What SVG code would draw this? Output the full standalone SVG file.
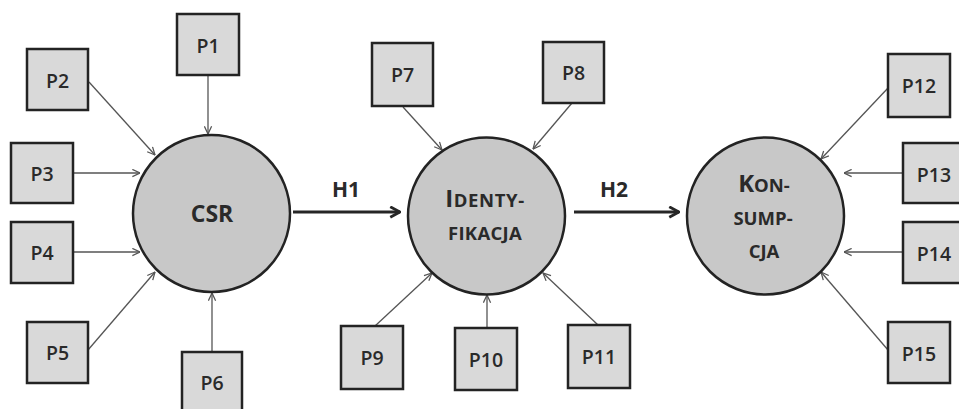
<svg xmlns="http://www.w3.org/2000/svg" width="959" height="409" viewBox="0 0 959 409">
<style>
.box{fill:#d9d9d9;stroke:#232323;stroke-width:2.5}
.circ{fill:#c8c8c8;stroke:#232323;stroke-width:2.5}
.pl{font-family:"Open Sans","Liberation Sans",sans-serif;font-weight:600;font-size:19.5px;fill:#2a2a2a;text-anchor:middle}
.cl{font-family:"Open Sans","Liberation Sans",sans-serif;font-weight:700;font-size:18.5px;fill:#2a2a2a;text-anchor:middle}
.big{font-size:24px}
.hl{font-family:"Open Sans","Liberation Sans",sans-serif;font-weight:700;font-size:21px;fill:#2a2a2a;text-anchor:middle}
.thin{stroke:#555;stroke-width:1.3;fill:none;marker-end:url(#a)}
.thick{stroke:#262626;stroke-width:3;fill:none;marker-end:url(#b)}
</style>
<defs>
<marker id="a" viewBox="0 0 10 10" refX="9.5" refY="5" markerWidth="9" markerHeight="9" orient="auto" markerUnits="userSpaceOnUse">
<path d="M1,1 L9.5,5 L1,9" fill="none" stroke="#555" stroke-width="1.4"/>
</marker>
<marker id="b" viewBox="0 0 10 10" refX="9" refY="5" markerWidth="13" markerHeight="13" orient="auto" markerUnits="userSpaceOnUse">
<path d="M1.5,1 L9,5 L1.5,9" fill="none" stroke="#262626" stroke-width="2.2"/>
</marker>
</defs>
<rect width="959" height="409" fill="#ffffff"/>
<g id="connectors">
<line class="thin" x1="208" y1="75" x2="208" y2="134"/>
<line class="thin" x1="89" y1="82" x2="155" y2="155"/>
<line class="thin" x1="73" y1="173" x2="140" y2="173"/>
<line class="thin" x1="73" y1="252" x2="140" y2="252"/>
<line class="thin" x1="88" y1="350" x2="155" y2="272"/>
<line class="thin" x1="212" y1="352" x2="212" y2="293"/>
<line class="thin" x1="403" y1="107" x2="442" y2="150"/>
<line class="thin" x1="572" y1="103" x2="533" y2="149"/>
<line class="thin" x1="375" y1="326" x2="432" y2="273"/>
<line class="thin" x1="487" y1="328" x2="487" y2="295"/>
<line class="thin" x1="598" y1="325" x2="543" y2="273"/>
<line class="thin" x1="888" y1="88" x2="821" y2="159"/>
<line class="thin" x1="903" y1="173" x2="844" y2="173"/>
<line class="thin" x1="903" y1="252" x2="844" y2="252"/>
<line class="thin" x1="888" y1="350" x2="821" y2="272"/>
<line class="thick" x1="293" y1="212" x2="400" y2="212"/>
<line class="thick" x1="574" y1="212" x2="679" y2="212"/>
<text class="hl" x="346" y="197">H1</text>
<text class="hl" x="614" y="197">H2</text>
</g>
<g id="CSR"><circle class="circ" cx="211.5" cy="213.5" r="78.5"/><text class="cl" x="212" y="222" style="font-size:23px">CSR</text></g>
<g id="Identyfikacja"><circle class="circ" cx="486.5" cy="216" r="78.5"/><text class="cl" x="485" y="207" letter-spacing="0.6"><tspan class="big">I</tspan>DENTY-</text><text class="cl" x="485" y="240" letter-spacing="0.3">FIKACJA</text></g>
<g id="Konsumpcja"><circle class="circ" cx="765.5" cy="216" r="78.5"/><text class="cl" x="764" y="192"><tspan class="big">K</tspan>ON-</text><text class="cl" x="763" y="225">SUMP-</text><text class="cl" x="764" y="258">CJA</text></g>
<g id="P1"><rect class="box" x="177" y="14" width="62" height="61"/><text class="pl" x="208" y="53">P1</text></g>
<g id="P2"><rect class="box" x="27" y="49" width="61" height="61"/><text class="pl" x="57.5" y="88">P2</text></g>
<g id="P3"><rect class="box" x="11" y="143" width="62" height="60"/><text class="pl" x="42" y="181">P3</text></g>
<g id="P4"><rect class="box" x="11" y="222" width="62" height="61"/><text class="pl" x="42" y="260">P4</text></g>
<g id="P5"><rect class="box" x="27" y="322" width="61" height="61"/><text class="pl" x="57.5" y="360">P5</text></g>
<g id="P6"><rect class="box" x="182" y="352" width="60" height="62"/><text class="pl" x="212" y="390">P6</text></g>
<g id="P7"><rect class="box" x="372" y="43" width="61" height="63"/><text class="pl" x="402.5" y="82">P7</text></g>
<g id="P8"><rect class="box" x="543" y="42" width="61" height="61"/><text class="pl" x="573.5" y="80">P8</text></g>
<g id="P9"><rect class="box" x="341" y="326" width="62" height="63"/><text class="pl" x="372" y="365">P9</text></g>
<g id="P10"><rect class="box" x="455" y="328" width="62" height="62"/><text class="pl" x="486" y="367">P10</text></g>
<g id="P11"><rect class="box" x="568" y="325" width="62" height="63"/><text class="pl" x="599" y="364">P11</text></g>
<g id="P12"><rect class="box" x="888" y="54" width="62" height="63"/><text class="pl" x="919" y="93">P12</text></g>
<g id="P13"><rect class="box" x="903" y="143" width="62" height="60"/><text class="pl" x="934" y="182">P13</text></g>
<g id="P14"><rect class="box" x="903" y="222" width="62" height="61"/><text class="pl" x="934" y="261">P14</text></g>
<g id="P15"><rect class="box" x="888" y="322" width="62" height="61"/><text class="pl" x="919" y="361">P15</text></g>
</svg>
